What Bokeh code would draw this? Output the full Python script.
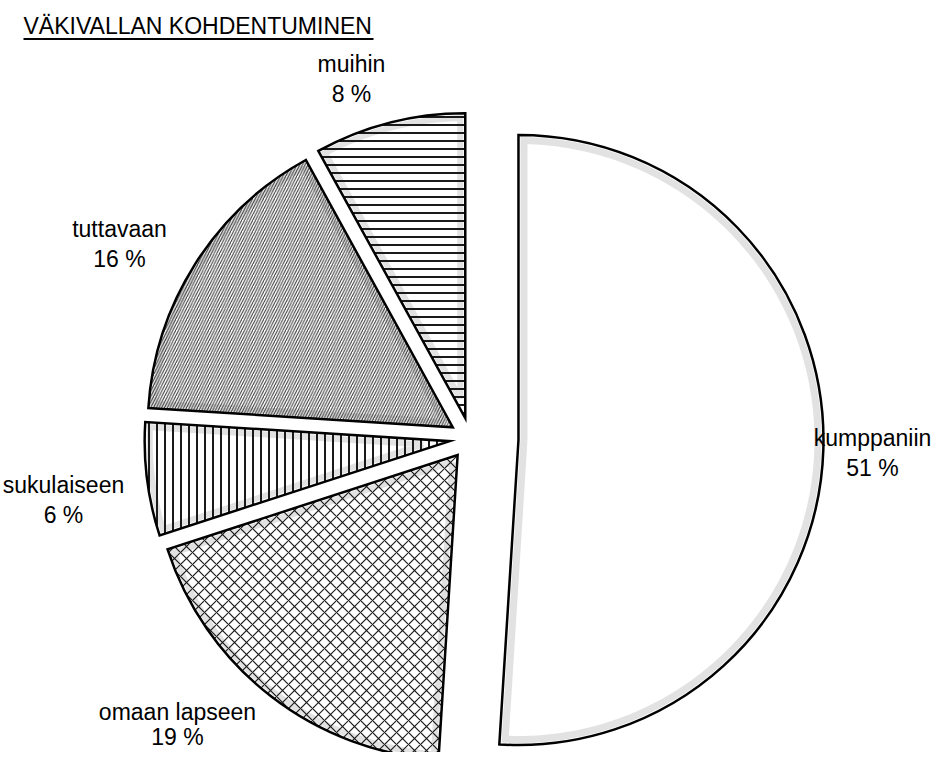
import numpy as np
from bokeh.plotting import figure
from bokeh.models import Range1d
from bokeh.core.properties import value
from bokeh.embed import file_html
from bokeh.resources import INLINE

# ---- data ----
categories = ["kumppaniin", "omaan lapseen", "sukulaiseen", "tuttavaan", "muihin"]
shares = [51, 19, 6, 16, 8]
share_labels = ["51 %", "19 %", "6 %", "16 %", "8 %"]
title_text = "VÄKIVALLAN KOHDENTUMINEN"

# ---- styles / layout ----
patterns = [None, "diagonal_cross", "vertical_line", "right_diagonal_line", "horizontal_line"]
hatch_scales = [8, 12, 8, 5.5, 8]
hatch_weights = [1, 1.2, 2.0, 1.0, 2.0]
hatch_colors = ["#1a1a1a", "#1a1a1a", "#1a1a1a", "#333333", "#1a1a1a"]
explode = [48, 21, 21, 21, 21]
band_inset = [5.5, 5, 5, 5, 5]
band_width = [7, 6, 6, 6, 6]
# label centre x, first-line baseline, second-line baseline (picture px, y downward)
label_x = [872, 177, 63, 119, 351]
label_y1 = [445, 719, 492, 236, 71]
label_y2 = [475, 744, 522, 266, 101]

W, H = 932, 752
FONT = value("Liberation Sans")
FS = "23px"
MID = 8.0  # distance from baseline to middle of the em box at 23px

def py(y):  # picture y (downward) -> data y (upward)
    return H - y

cx0, cy0 = 470.0, py(438.0)
R = 305.0

p = figure(width=W, height=H, output_backend="svg", toolbar_location=None,
           x_range=Range1d(0, W), y_range=Range1d(0, H),
           min_border=0, outline_line_color=None, background_fill_color="white")
p.axis.visible = False
p.grid.visible = False

total = float(sum(shares))
theta0 = 0.0
for i, s in enumerate(shares):
    theta1 = theta0 + 360.0 * s / total
    a0 = np.radians(90.0 - theta0)
    a1 = np.radians(90.0 - theta1)
    mid = (a0 + a1) / 2
    cx = cx0 + explode[i] * np.cos(mid)
    cy = cy0 + explode[i] * np.sin(mid)
    # white base
    p.wedge(x=[cx], y=[cy], radius=R, start_angle=a0, end_angle=a1,
            direction="clock", fill_color="white", line_color=None)
    # light grey inner band
    d = band_inset[i]
    alpha = (a0 - a1) / 2
    k = d / np.sin(alpha)
    ax, ay = cx + k * np.cos(mid), cy + k * np.sin(mid)
    beta = np.arcsin(d / (R - d))
    ts = np.linspace(a0 - beta, a1 + beta, 240)
    bx = [ax] + list(cx + (R - d) * np.cos(ts)) + [ax]
    by = [ay] + list(cy + (R - d) * np.sin(ts)) + [ay]
    p.line(bx, by, line_color="#e2e2e2", line_width=band_width[i], line_join="miter")
    # hatch + black outline
    kw = dict(x=[cx], y=[cy], radius=R, start_angle=a0, end_angle=a1,
              direction="clock", fill_color=None, line_color="black",
              line_width=2.5, line_join="miter")
    if patterns[i]:
        kw.update(hatch_pattern=patterns[i], hatch_color=hatch_colors[i],
                  hatch_scale=hatch_scales[i], hatch_weight=hatch_weights[i])
    p.wedge(**kw)
    theta0 = theta1

# labels
p.text(x=label_x, y=[py(v - MID) for v in label_y1], text=categories,
       text_align="center", text_baseline="middle",
       text_font=FONT, text_font_size=FS, text_color="black")
p.text(x=label_x, y=[py(v - MID) for v in label_y2], text=share_labels,
       text_align="center", text_baseline="middle",
       text_font=FONT, text_font_size=FS, text_color="black")

# title with underline
p.text(x=[23], y=[py(33 - MID)], text=[title_text], text_align="left",
       text_baseline="middle", text_font=FONT, text_font_size=FS,
       text_color="black")
p.segment(x0=[23], y0=[py(38.5)], x1=[373], y1=[py(38.5)], line_color="black", line_width=2)

open("out.html", "w").write(file_html(p, INLINE))
